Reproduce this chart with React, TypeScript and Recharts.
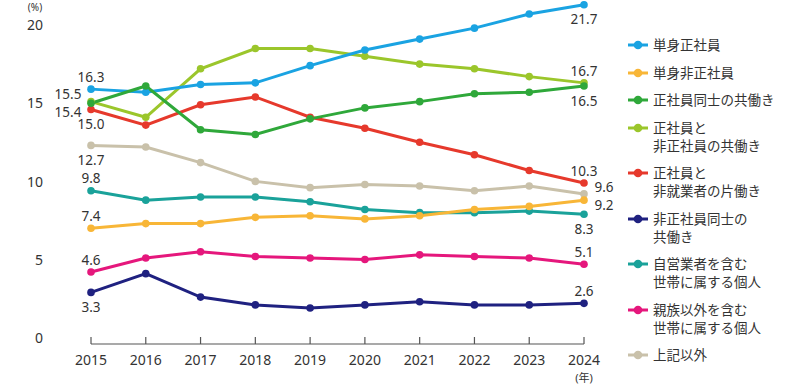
import { LineChart, Line, XAxis, YAxis, LabelList } from 'recharts'

const years = [2015, 2016, 2017, 2018, 2019, 2020, 2021, 2022, 2023, 2024]

// 世帯タイプ別の割合 (%)
const tanshinSeishain = [16.3, 16.1, 16.6, 16.7, 17.8, 18.8, 19.5, 20.2, 21.1, 21.7]
const tanshinHiseishain = [7.4, 7.7, 7.7, 8.1, 8.2, 8.0, 8.2, 8.6, 8.8, 9.2]
const seishainDoushi = [15.4, 16.5, 13.7, 13.4, 14.4, 15.1, 15.5, 16.0, 16.1, 16.5]
const seishainHiseishain = [15.5, 14.5, 17.6, 18.9, 18.9, 18.4, 17.9, 17.6, 17.1, 16.7]
const seishainKatabataraki = [15.0, 14.0, 15.3, 15.8, 14.5, 13.8, 12.9, 12.1, 11.1, 10.3]
const hiseishainDoushi = [3.3, 4.5, 3.0, 2.5, 2.3, 2.5, 2.7, 2.5, 2.5, 2.6]
const jieigyou = [9.8, 9.2, 9.4, 9.4, 9.1, 8.6, 8.4, 8.4, 8.5, 8.3]
const shinzokuIgai = [4.6, 5.5, 5.9, 5.6, 5.5, 5.4, 5.7, 5.6, 5.5, 5.1]
const sonota = [12.7, 12.6, 11.6, 10.4, 10.0, 10.2, 10.1, 9.8, 10.1, 9.6]

const yTicks = [0, 5, 10, 15, 20]

const FONT = "'Noto Sans', 'Noto Sans CJK JP', sans-serif"
const TEXT = '#333'

type Pos = 'above' | 'below' | 'left' | 'leftBelow' | 'rightUp' | 'rightDown'

const labelOffset: Record<Pos, [number, number]> = {
  above: [0, -12],
  below: [0, 15],
  left: [-23, -7],
  leftBelow: [-23, 9],
  rightUp: [20, -7],
  rightDown: [20, 5],
}

const series: { key: string; name: string[]; color: string; values: number[]; first: Pos; last: Pos }[] = [
  { key: 's1', name: ['単身正社員'], color: '#1aa3e2', values: tanshinSeishain, first: 'above', last: 'below' },
  { key: 's2', name: ['単身非正社員'], color: '#f8b637', values: tanshinHiseishain, first: 'above', last: 'rightDown' },
  { key: 's3', name: ['正社員同士の共働き'], color: '#2fa83a', values: seishainDoushi, first: 'leftBelow', last: 'below' },
  { key: 's4', name: ['正社員と', '非正社員の共働き'], color: '#9bc62b', values: seishainHiseishain, first: 'left', last: 'above' },
  { key: 's5', name: ['正社員と', '非就業者の片働き'], color: '#e6392c', values: seishainKatabataraki, first: 'below', last: 'above' },
  { key: 's6', name: ['非正社員同士の', '共働き'], color: '#1f2180', values: hiseishainDoushi, first: 'below', last: 'above' },
  { key: 's7', name: ['自営業者を含む', '世帯に属する個人'], color: '#1aa29a', values: jieigyou, first: 'above', last: 'below' },
  { key: 's8', name: ['親族以外を含む', '世帯に属する個人'], color: '#e5177c', values: shinzokuIgai, first: 'above', last: 'above' },
  { key: 's9', name: ['上記以外'], color: '#c9c1aa', values: sonota, first: 'below', last: 'rightUp' },
]

// lime is drawn under green in the original
const drawOrder = ['s9', 's8', 's7', 's6', 's5', 's4', 's1', 's2', 's3']

const data = years.map((year, i) => {
  const row: Record<string, number> = { year }
  series.forEach(s => { row[s.key] = s.values[i] })
  return row
})

function makeLabel(first: Pos, last: Pos) {
  return (props: any) => {
    const { x, y, value, index } = props
    if (index !== 0 && index !== years.length - 1) return null
    const [dx, dy] = labelOffset[index === 0 ? first : last]
    return (
      <text x={x + dx} y={y + dy} dy="0.35em" textAnchor="middle"
        fill={TEXT} fontSize={13.5} fontFamily={FONT}>
        {value.toFixed(1)}
      </text>
    )
  }
}

function YTick({ x, y, payload }: any) {
  return (
    <g>
      <text x={x} y={y} dy={-1} textAnchor="end" fill={TEXT} fontSize={14} fontFamily={FONT}>
        {payload.value}
      </text>
      {payload.value === 20 && (
        <text x={x - 8} y={y - 20} textAnchor="middle" fill={TEXT} fontSize={10} fontFamily={FONT}>(%)</text>
      )}
    </g>
  )
}

function XTick({ x, y, payload }: any) {
  return (
    <g>
      <line x1={x} x2={x} y1={y} y2={y - 7} stroke="#555" strokeWidth={1.2} />
      <text x={x} y={y + 21} textAnchor="middle" fill={TEXT} fontSize={14} fontFamily={FONT}>
        {payload.value}
      </text>
      {payload.value === 2024 && (
        <text x={x} y={y + 38} textAnchor="middle" fill={TEXT} fontSize={11} fontFamily={FONT}>(年)</text>
      )}
    </g>
  )
}

function Legend() {
  return (
    <div style={{ position: 'absolute', left: 628, top: 36, fontFamily: FONT, fontSize: 13.5, color: TEXT }}>
      {series.map(s => (
        <div key={s.key} style={{ display: 'flex', alignItems: 'flex-start', marginBottom: 9.5 }}>
          <svg width={20} height={18} style={{ flex: 'none' }}>
            <line x1={0} x2={20} y1={9} y2={9} stroke={s.color} strokeWidth={3} />
            <circle cx={10} cy={9} r={4.3} fill={s.color} />
          </svg>
          <div style={{ marginLeft: 5, lineHeight: '18px', whiteSpace: 'nowrap' }}>
            {s.name.map((n, i) => <div key={i}>{n}</div>)}
          </div>
        </div>
      ))}
    </div>
  )
}

export default function App() {
  return (
    <div style={{ position: 'absolute', left: 0, top: 0, width: 800, height: 384, background: '#fff' }}>
      <LineChart width={800} height={384} data={data}
        margin={{ top: 0, right: 216, bottom: 10, left: 41 }}>
        <XAxis dataKey="year" type="number" domain={[2015, 2024]} ticks={years}
          axisLine={{ stroke: '#555', strokeWidth: 1.2 }} tickLine={false}
          tickSize={0} tickMargin={0} height={30} tick={<XTick />} interval={0} />
        <YAxis domain={[0, 22]} ticks={yTicks} width={50} axisLine={false} tickLine={false}
          tickSize={0} tickMargin={48} tick={<YTick />} />
        {drawOrder.map(k => {
          const s = series.find(z => z.key === k)!
          return (
            <Line key={s.key} dataKey={s.key} type="linear" stroke={s.color} strokeWidth={3}
              dot={{ r: 3.8, fill: s.color, stroke: s.color, strokeWidth: 0 }}
              activeDot={false} isAnimationActive={false}>
              <LabelList dataKey={s.key} content={makeLabel(s.first, s.last)} />
            </Line>
          )
        })}
      </LineChart>
      <Legend />
    </div>
  )
}
